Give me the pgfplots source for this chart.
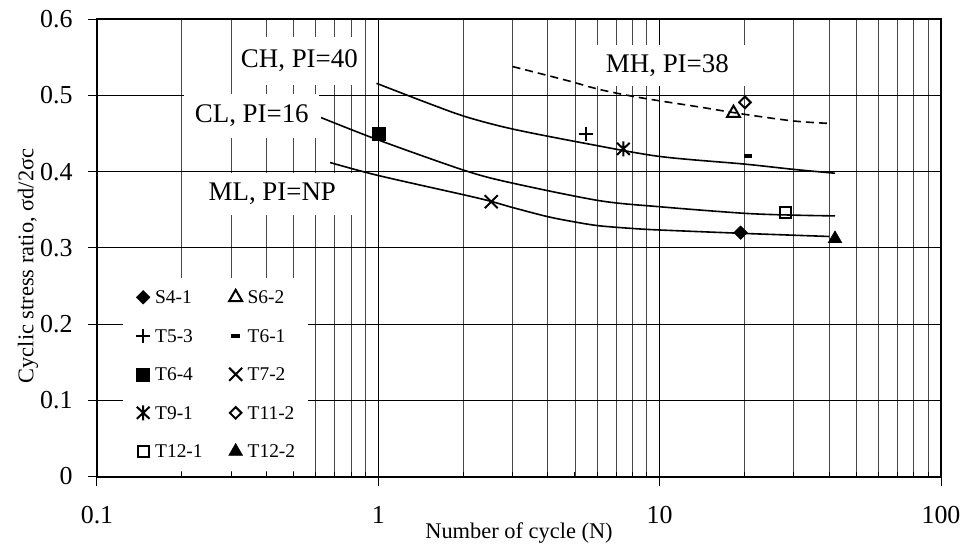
\documentclass[border=0pt]{standalone}
\usepackage{fontspec}
\setmainfont{Liberation Serif}
\usepackage{pgfplots}
\pgfplotsset{compat=1.18}
\pgfdeclareplotmark{xbar}{%
  \pgfpathmoveto{\pgfqpoint{0pt}{\pgfplotmarksize}}%
  \pgfpathlineto{\pgfqpoint{0pt}{-\pgfplotmarksize}}%
  \pgfpathmoveto{\pgfqpoint{-.85\pgfplotmarksize}{-.8\pgfplotmarksize}}%
  \pgfpathlineto{\pgfqpoint{.85\pgfplotmarksize}{.8\pgfplotmarksize}}%
  \pgfpathmoveto{\pgfqpoint{-.85\pgfplotmarksize}{.8\pgfplotmarksize}}%
  \pgfpathlineto{\pgfqpoint{.85\pgfplotmarksize}{-.8\pgfplotmarksize}}%
  \pgfusepathqstroke}
\begin{document}
\begin{tikzpicture}
\useasboundingbox (-97bp,-75.5bp) rectangle (869bp,476.5bp);
\begin{axis}[
  scale only axis,
  width=844bp, height=457.2bp,
  xmode=log, xmin=0.1, xmax=100,
  ymin=0, ymax=0.6,
  ytick={0,0.1,0.2,0.3,0.4,0.5,0.6},
  log ticks with fixed point,
  /pgf/number format/assume math mode=true,
  y tick label style={/pgf/number format/fixed, /pgf/number format/precision=1},
  tick label style={font=\fontsize{26}{29}\selectfont},
  x tick label style={yshift=-17bp},
  yticklabel shift=6bp,
  y tick label style={xshift=-6bp},
  xmajorgrids, xminorgrids, ymajorgrids,
  major grid style={black, line width=1bp},
  minor grid style={black!72, line width=0.9bp},
  axis line style={line width=2bp},
  tick align=outside,
  xtick pos=bottom, ytick pos=left,
  major tick length=9bp, minor tick length=5bp,
  major tick style={black, line width=1bp},
  minor tick style={black, line width=1bp, yshift=5bp},
  xlabel={Number of cycle (N)},
  every axis x label/.style={at={(axis description cs:0.5,-0.1247)}, anchor=center, font=\fontsize{22.5}{26}\selectfont},
  legend columns=2,
  legend cell align=left,
  legend style={at={(0.0308,0.012)}, anchor=south west, draw=none, fill=white,
    inner xsep=13bp, inner ysep=13bp, row sep=25.5bp, column sep=5bp,
    font=\fontsize{19.5}{22}\selectfont,
    nodes={inner sep=0pt, text height=13bp, text depth=0bp},
    /tikz/every even column/.append style={column sep=26bp}},
  legend image code/.code={\path[draw=none, fill=none] (-7bp,-6.5bp) rectangle (7bp,6.5bp);
    \begin{pgfinterruptboundingbox}\draw[#1] plot coordinates {(0bp,0bp)};\end{pgfinterruptboundingbox}},
]
% fitted curves
\addplot[black, line width=1.6bp, smooth, forget plot] coordinates {
  (0.985,0.516) (1.5,0.490) (2.05,0.472) (3,0.456) (5.47,0.437) (10,0.420) (20,0.410) (30,0.403) (42,0.398)};
\addplot[black, line width=1.6bp, smooth, forget plot] coordinates {
  (0.626,0.471) (1,0.4416) (2.05,0.401) (3,0.385) (6.1,0.362) (10,0.354) (20,0.3454) (30,0.343) (42,0.342)};
\addplot[black, line width=1.6bp, smooth, forget plot] coordinates {
  (0.674,0.412) (1,0.395) (2.05,0.369) (2.52,0.361) (3,0.353) (4,0.341) (5,0.334) (6.1,0.329) (8,0.3255) (10,0.3235) (20,0.319) (40,0.315)};
\addplot[black, line width=1.6bp, smooth, dash pattern=on 8bp off 5bp, forget plot] coordinates {
  (3,0.538) (4.65,0.520) (6.1,0.508) (8,0.499) (10,0.493) (13.8,0.485) (20.3,0.475) (30,0.4665) (39.5,0.4635)};
% test data
\addplot[black, only marks, mark=square*, mark size=4.8bp, mark options={rotate=45, fill=black, line width=0.5bp}] coordinates {(19.4,0.320)};
\addlegendentry{S4-1}
\addplot[black, only marks, mark=triangle, mark size=7.5bp, mark options={line width=2bp}] coordinates {(18.3,0.4768)};
\addlegendentry{S6-2}
\addplot[black, only marks, mark=+, mark size=7bp, mark options={line width=2.2bp}] coordinates {(5.47,0.4495)};
\addlegendentry{T5-3}
\addplot[black, only marks, mark=-, mark size=4.3bp, mark options={line width=4bp}] coordinates {(20.6,0.4206)};
\addlegendentry{T6-1}
\addplot[black, only marks, mark=square*, mark size=6.5bp, mark options={fill=black}] coordinates {(1.0,0.450)};
\addlegendentry{T6-4}
\addplot[black, only marks, mark=x, mark size=9.2bp, mark options={line width=2bp}] coordinates {(2.52,0.3606)};
\addlegendentry{T7-2}
\addplot[black, only marks, mark=xbar, mark size=7.5bp, mark options={line width=2bp}] coordinates {(7.43,0.430)};
\addlegendentry{T9-1}
\addplot[black, only marks, mark=square, mark size=4.1bp, mark options={rotate=45, line width=2bp}] coordinates {(20.1,0.491)};
\addlegendentry{T11-2}
\addplot[black, only marks, mark=square, mark size=5.5bp, mark options={line width=2bp}] coordinates {(27.9,0.346)};
\addlegendentry{T12-1}
\addplot[black, only marks, mark=triangle*, mark size=8bp, mark options={fill=black}] coordinates {(42.0,0.312)};
\addlegendentry{T12-2}
% curve labels
\node[fill=white, inner sep=0pt, minimum width=128bp, minimum height=48bp, font=\fontsize{27}{30}\selectfont] at (axis cs:0.524,0.5453) {CH, PI=40};
\node[fill=white, inner sep=0pt, minimum width=135bp, minimum height=44bp, font=\fontsize{27}{30}\selectfont] at (axis cs:0.355,0.4731) {CL, PI=16};
\node[fill=white, inner sep=0pt, minimum width=170bp, minimum height=42bp, font=\fontsize{27}{30}\selectfont] at (axis cs:0.420,0.3707) {ML, PI=NP};
\node[fill=white, inner sep=0pt, minimum width=165bp, minimum height=41bp, font=\fontsize{27}{30}\selectfont] at (axis cs:10.65,0.5394) {MH, PI=38};
\end{axis}
\node[rotate=90, anchor=center, font=\fontsize{22.5}{26}\selectfont] at (-69bp,210.5bp) {Cyclic stress ratio, σd/2σc};
\end{tikzpicture}
\end{document}
